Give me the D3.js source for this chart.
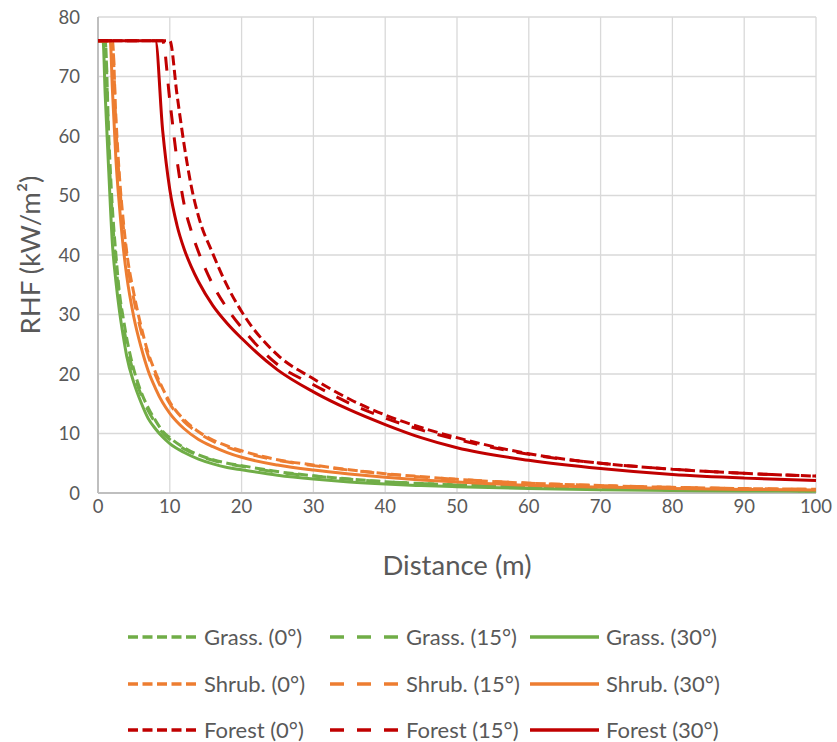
<!DOCTYPE html>
<html><head><meta charset="utf-8">
<script src="https://cdn.jsdelivr.net/npm/d3@7"></script>
<style>body{margin:0;background:#fff;} text{font-family:Lato, "Liberation Sans", sans-serif;}</style>
</head><body><svg id="c" width="837" height="742"></svg>
<script>
// ---- data ----
const xTicks = [0,10,20,30,40,50,60,70,80,90,100];
const yTicks = [0,10,20,30,40,50,60,70,80];

const grassDist = [0,0.7,1,1.5,2,2.5,3,3.5,4,5,6,7,8,9,10,12,14,16,18,20,25,30,35,40,45,50,60,70,80,90,100];
const grass0  = [76,76,76,60,48,40,33.5,29.5,26,20.7,17,14.3,12.2,10.4,9.3,7.6,6.4,5.6,5.0,4.6,3.6,2.9,2.35,1.9,1.6,1.35,0.95,0.7,0.55,0.45,0.38];
const grass15 = [76,76,76,58,46.5,38.5,32.5,28.5,25,20,16.5,13.8,11.8,10.1,9.0,7.4,6.3,5.5,4.9,4.5,3.5,2.85,2.3,1.9,1.6,1.35,0.95,0.7,0.55,0.45,0.38];
const grass30 = [76,76,67,54,42,35.5,30.5,26.5,23,18.5,15.2,12.5,10.8,9.4,8.3,6.8,5.7,4.9,4.3,3.9,3.0,2.35,1.85,1.5,1.25,1.05,0.75,0.55,0.42,0.35,0.3];

const shrubDist = [0,1.7,2,2.5,3,3.5,4,5,6,7,8,9,10,12,14,16,18,20,25,30,35,40,45,50,60,70,80,90,100];
const shrub0  = [76,76,76,63,53,46,40.5,33.5,28,23.5,20.3,17.6,15.3,12.3,10.3,8.9,7.9,7.1,5.6,4.7,3.9,3.25,2.75,2.3,1.65,1.25,0.95,0.75,0.62];
const shrub15 = [76,76,76,61.5,52,45,39.5,32.5,27.2,23,19.8,17.2,15.0,12.0,10.1,8.7,7.7,6.9,5.5,4.6,3.85,3.2,2.7,2.3,1.65,1.25,0.95,0.75,0.62];
const shrub30 = [76,76,68,56,48,41.5,36.5,29.5,24.5,20.5,17.6,15.2,13.4,10.8,9.0,7.8,6.8,6.0,4.7,3.85,3.2,2.65,2.2,1.85,1.3,1.0,0.75,0.6,0.5];

const forestDist = [0,8,9,10,11,12,13,14,16,18,20,25,30,35,40,45,50,60,70,80,90,100];
const forest0  = [76,76,76,76,67,58.5,51.5,46.5,40.2,34.8,30.5,23.2,19.2,15.8,13.1,11.0,9.3,6.6,5.0,4.0,3.3,2.85];
const forest15 = [76,76,76,66,56,48.5,44,40.5,35,31,27.8,21.6,18.2,15.1,12.6,10.6,9.0,6.5,5.0,4.0,3.3,2.85];
const forest30 = [76,76,61,51,45,41,38,35.5,31.5,28.5,26,20.7,17,14,11.5,9.3,7.6,5.5,4.1,3.1,2.5,2.1];

const seriesNames = ["Grass. (0°)","Grass. (15°)","Grass. (30°)","Shrub. (0°)","Shrub. (15°)","Shrub. (30°)","Forest (0°)","Forest (15°)","Forest (30°)"];
const series = [
  {name:seriesNames[0], x:grassDist, y:grass0, color:"#70ad47", dash:"10,4.5"},
  {name:seriesNames[1], x:grassDist, y:grass15, color:"#70ad47", dash:"14,13"},
  {name:seriesNames[2], x:grassDist, y:grass30, color:"#70ad47", dash:null},
  {name:seriesNames[3], x:shrubDist, y:shrub0, color:"#ed7d31", dash:"10,4.5"},
  {name:seriesNames[4], x:shrubDist, y:shrub15, color:"#ed7d31", dash:"14,13"},
  {name:seriesNames[5], x:shrubDist, y:shrub30, color:"#ed7d31", dash:null},
  {name:seriesNames[6], x:forestDist, y:forest0, color:"#c00000", dash:"10,4.5"},
  {name:seriesNames[7], x:forestDist, y:forest15, color:"#c00000", dash:"14,13"},
  {name:seriesNames[8], x:forestDist, y:forest30, color:"#c00000", dash:null}
];

// ---- drawing ----
const svg = d3.select("#c");
const L=98, R=816, T=17, B=493;
const x = d3.scaleLinear().domain([0,100]).range([L,R]);
const y = d3.scaleLinear().domain([0,80]).range([B,T]);
const txt = "#595959";

// gridlines
svg.append("g").selectAll("line").data(yTicks).join("line")
  .attr("x1",L).attr("x2",R).attr("y1",d=>y(d)).attr("y2",d=>y(d))
  .attr("stroke","#d9d9d9").attr("stroke-width",1.3);
svg.append("g").selectAll("line").data(xTicks).join("line")
  .attr("y1",T).attr("y2",B).attr("x1",d=>x(d)).attr("x2",d=>x(d))
  .attr("stroke","#d9d9d9").attr("stroke-width",1.3);

// axes lines
svg.append("line").attr("x1",L).attr("x2",L).attr("y1",T).attr("y2",B).attr("stroke","#bfbfbf").attr("stroke-width",2);
svg.append("line").attr("x1",L).attr("x2",R).attr("y1",B).attr("y2",B).attr("stroke","#bfbfbf").attr("stroke-width",2);

// tick labels
svg.append("g").selectAll("text").data(yTicks).join("text")
  .attr("x",80).attr("y",d=>y(d)).attr("dy","0.36em").attr("text-anchor","end")
  .attr("font-size",18.5).attr("fill",txt).text(d=>d);
svg.append("g").selectAll("text").data(xTicks).join("text")
  .attr("x",d=>x(d)).attr("y",513).attr("text-anchor","middle")
  .attr("font-size",18.5).attr("fill",txt).text(d=>d);

// axis titles
svg.append("text").attr("x",457).attr("y",575).attr("text-anchor","middle")
  .attr("font-size",27.5).attr("fill",txt).text("Distance (m)");
svg.append("text").attr("transform","translate(40,255) rotate(-90)").attr("text-anchor","middle")
  .attr("font-size",27.5).attr("fill",txt).text("RHF (kW/m²)");

// lines
const line = d3.line().x(d=>x(d[0])).y(d=>y(d[1])).curve(d3.curveMonotoneX);
svg.append("g").selectAll("path").data(series).join("path")
  .attr("d",s=>line(s.x.map((d,i)=>[d,s.y[i]])))
  .attr("fill","none").attr("stroke",s=>s.color).attr("stroke-width",3)
  .attr("stroke-dasharray",s=>s.dash)
  .attr("stroke-linejoin","round");

// legend
const colX = [128,330,530];
const rowY = [637,684,730];
const lg = svg.append("g").selectAll("g").data(series).join("g")
  .attr("transform",(s,i)=>`translate(${colX[i%3]},${rowY[Math.floor(i/3)]})`);
lg.append("line").attr("x1",0).attr("x2",69).attr("y1",0).attr("y2",0)
  .attr("stroke",s=>s.color).attr("stroke-width",3.5).attr("stroke-dasharray",s=>s.dash);
lg.append("text").attr("x",76).attr("y",0).attr("dy","0.36em")
  .attr("font-size",22).attr("fill",txt).text(s=>s.name);
</script></body></html>
